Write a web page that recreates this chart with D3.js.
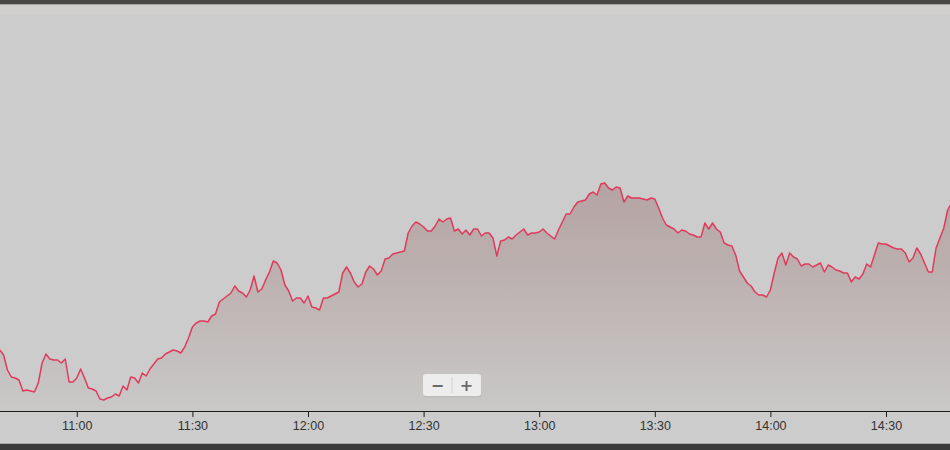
<!DOCTYPE html>
<html>
<head>
<meta charset="utf-8">
<script src="https://cdn.jsdelivr.net/npm/d3@7"></script>
<style>
  body { margin: 0; background: #cccccc; }
  svg { display: block; }
</style>
</head>
<body>
<svg id="chart" width="950" height="450"></svg>
<script>
// one price per minute, starting 10:40
const startTime = "10:40";
const prices = [
  20.61, 20.56, 20.41, 20.34, 20.33, 20.31, 20.20, 20.21, 20.20, 20.19,
  20.28, 20.48, 20.57, 20.52, 20.51, 20.51, 20.48, 20.52, 20.29, 20.29,
  20.33, 20.42, 20.33, 20.23, 20.22, 20.20, 20.12, 20.11, 20.13, 20.14,
  20.17, 20.15, 20.25, 20.21, 20.34, 20.33, 20.28, 20.38, 20.35, 20.42,
  20.47, 20.52, 20.53, 20.57, 20.59, 20.61, 20.60, 20.58, 20.64, 20.73,
  20.84, 20.88, 20.90, 20.90, 20.89, 20.95, 20.97, 21.09, 21.12, 21.15,
  21.18, 21.25, 21.20, 21.18, 21.14, 21.21, 21.35, 21.19, 21.22, 21.31,
  21.39, 21.50, 21.48, 21.41, 21.26, 21.20, 21.10, 21.13, 21.13, 21.08,
  21.15, 21.04, 21.03, 21.01, 21.13, 21.13, 21.15, 21.17, 21.19, 21.38,
  21.44, 21.38, 21.29, 21.24, 21.27, 21.39, 21.45, 21.42, 21.36, 21.40,
  21.52, 21.53, 21.57, 21.58, 21.59, 21.60, 21.78, 21.85, 21.89, 21.87,
  21.84, 21.80, 21.80, 21.85, 21.92, 21.89, 21.92, 21.93, 21.80, 21.82,
  21.77, 21.81, 21.76, 21.82, 21.82, 21.75, 21.78, 21.78, 21.73, 21.55,
  21.70, 21.71, 21.74, 21.72, 21.76, 21.79, 21.82, 21.76, 21.78, 21.78,
  21.79, 21.82, 21.78, 21.75, 21.72, 21.81, 21.89, 21.97, 21.97, 22.04,
  22.09, 22.10, 22.11, 22.17, 22.19, 22.16, 22.27, 22.28, 22.23, 22.21,
  22.24, 22.23, 22.09, 22.15, 22.13, 22.13, 22.13, 22.12, 22.11, 22.13,
  22.12, 22.03, 21.93, 21.86, 21.84, 21.82, 21.78, 21.81, 21.80, 21.77,
  21.76, 21.74, 21.74, 21.88, 21.82, 21.88, 21.82, 21.79, 21.68, 21.66,
  21.65, 21.56, 21.40, 21.34, 21.28, 21.25, 21.19, 21.16, 21.16, 21.14,
  21.21, 21.38, 21.53, 21.58, 21.46, 21.58, 21.54, 21.52, 21.45, 21.47,
  21.47, 21.44, 21.46, 21.48, 21.39, 21.46, 21.44, 21.41, 21.40, 21.38,
  21.38, 21.29, 21.34, 21.32, 21.37, 21.47, 21.44, 21.56, 21.68, 21.67,
  21.67, 21.65, 21.63, 21.62, 21.62, 21.58, 21.49, 21.53, 21.63, 21.57,
  21.48, 21.39, 21.39, 21.63, 21.73, 21.83, 22.01, 22.08
];
const tickLabels = ["11:00", "11:30", "12:00", "12:30", "13:00", "13:30", "14:00", "14:30"];

const W = 950, H = 450;
const axisY = 411;
const parse = d3.timeParse("%H:%M");
const t0 = parse(startTime);
const data = prices.map((p, i) => ({ t: d3.timeMinute.offset(t0, i), p: p }));

const svg = d3.select("#chart");

// x: about 3.853 px per minute, 10:40 sits just left of the edge
const pxPerMin = 3.8533;
const x = d3.scaleTime()
  .domain([t0, d3.timeMinute.offset(t0, 247)])
  .range([-0.27, -0.27 + 247 * pxPerMin]);
const y = d3.scaleLinear().domain([20, 24.06]).range([axisY, 5]);

// background
svg.append("rect").attr("width", W).attr("height", H).attr("fill", "#cccccc");

const defs = svg.append("defs");
const grad = defs.append("linearGradient")
  .attr("id", "areaFill")
  .attr("gradientUnits", "userSpaceOnUse")
  .attr("x1", 0).attr("x2", 0)
  .attr("y1", 180).attr("y2", axisY);
grad.append("stop").attr("offset", 0).attr("stop-color", "#b4a3a2");
grad.append("stop").attr("offset", 0.55).attr("stop-color", "#bfb6b5");
grad.append("stop").attr("offset", 1).attr("stop-color", "#c9c9c8");

const area = d3.area()
  .x(d => x(d.t))
  .y0(axisY)
  .y1(d => y(d.p));

const line = d3.line()
  .x(d => x(d.t))
  .y(d => y(d.p));

svg.append("path")
  .datum(data)
  .attr("d", area)
  .attr("fill", "url(#areaFill)");

svg.append("path")
  .datum(data)
  .attr("d", line)
  .attr("fill", "none")
  .attr("stroke", "#e03a5c")
  .attr("stroke-width", 1.5)
  .attr("stroke-linejoin", "round");

// x axis
const xAxis = d3.axisBottom(x)
  .tickValues(tickLabels.map(parse))
  .tickFormat(d3.timeFormat("%H:%M"))
  .tickSizeInner(6)
  .tickSizeOuter(0);

const gx = svg.append("g")
  .attr("transform", `translate(0,${axisY})`)
  .call(xAxis);
gx.select(".domain").remove();
gx.append("line")
  .attr("x1", 0).attr("x2", W)
  .attr("y1", 0.5).attr("y2", 0.5)
  .attr("stroke", "#1e1e1e");
gx.selectAll(".tick line").attr("stroke", "#1e1e1e");
gx.selectAll(".tick text")
  .attr("y", 10)
  .attr("fill", "#333")
  .attr("font-family", "'Liberation Sans', Arial, sans-serif")
  .attr("font-size", 12.5);

// zoom buttons
const zb = svg.append("g").attr("transform", "translate(423,374)");
zb.append("rect")
  .attr("x", 0.5).attr("y", 1.5).attr("width", 58).attr("height", 22)
  .attr("rx", 3).attr("fill", "#b8b8b8").attr("opacity", 0.6);
zb.append("rect")
  .attr("width", 58).attr("height", 22)
  .attr("rx", 3).attr("fill", "#ededed");
zb.append("line")
  .attr("x1", 29).attr("x2", 29).attr("y1", 3).attr("y2", 19)
  .attr("stroke", "#d2d2d2");
zb.selectAll("text.btn")
  .data(["−", "+"])
  .join("text")
  .attr("class", "btn")
  .attr("x", (d, i) => 14.5 + i * 29)
  .attr("y", 16.5)
  .attr("text-anchor", "middle")
  .attr("font-family", "'DejaVu Sans', sans-serif")
  .attr("font-weight", "bold")
  .attr("font-size", 16)
  .attr("fill", "#6a6a6a")
  .text(d => d);

// window frame bars
svg.append("rect").attr("x", 0).attr("y", 0).attr("width", W).attr("height", 4).attr("fill", "#484848");
svg.append("rect").attr("x", 0).attr("y", 4).attr("width", W).attr("height", 1).attr("fill", "#a4a4a4");
svg.append("rect").attr("x", 0).attr("y", 5).attr("width", W).attr("height", 10).attr("fill", "#d1cfce");
svg.append("rect").attr("x", 0).attr("y", 443).attr("width", W).attr("height", 1).attr("fill", "#a8a8a8");
svg.append("rect").attr("x", 0).attr("y", 444).attr("width", W).attr("height", 6).attr("fill", "#3a3a3a");
</script>
</body>
</html>
